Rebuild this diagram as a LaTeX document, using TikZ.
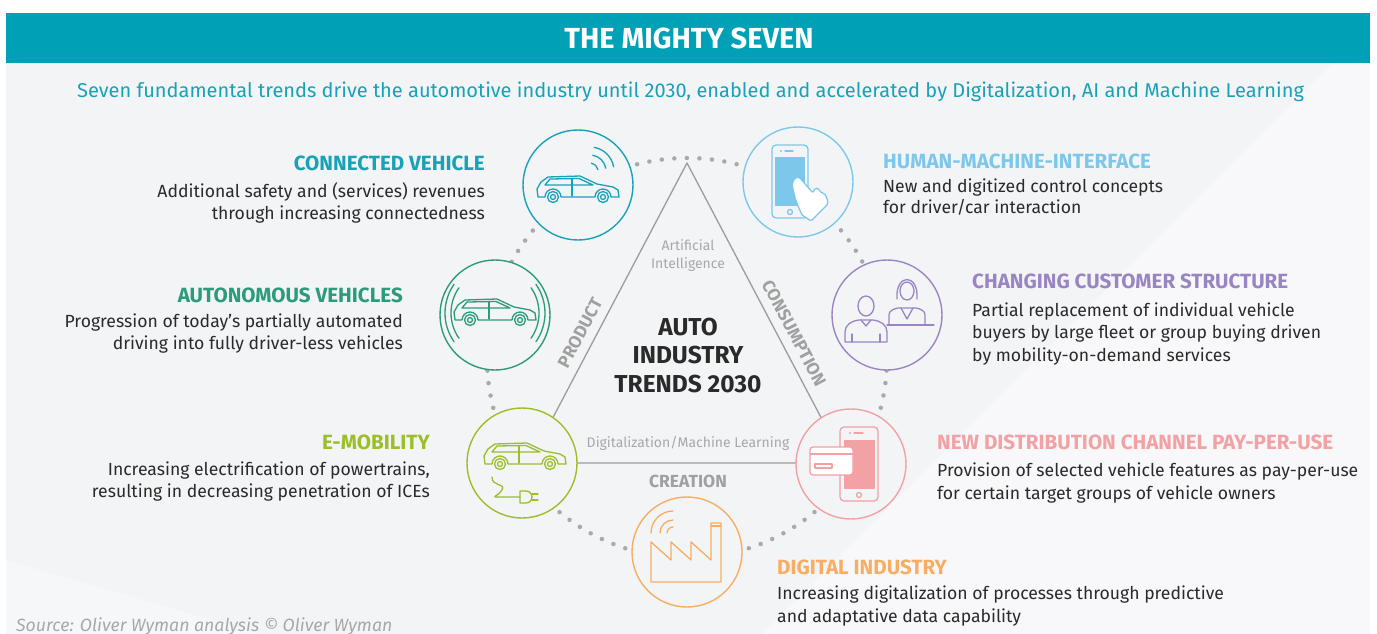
\documentclass[tikz,border=0pt]{standalone}
\usepackage{fontspec}
\setmainfont{Fira Sans}
\usetikzlibrary{positioning,calc}

\definecolor{barteal}{HTML}{00A1B7}
\definecolor{panel}{HTML}{F3F4F6}
\definecolor{cvcol}{HTML}{17A2B8}
\definecolor{avcol}{HTML}{2A9C7B}
\definecolor{emcol}{HTML}{9BBE2A}
\definecolor{hmicol}{HTML}{7DC8EA}
\definecolor{cuscol}{HTML}{9985C3}
\definecolor{paycol}{HTML}{F2A1A4}
\definecolor{dicol}{HTML}{F7AE62}
\definecolor{txt}{HTML}{2A2A2A}
\definecolor{softgray}{HTML}{A8A8A8}
\definecolor{dotgray}{HTML}{A9A9A9}
\definecolor{trigray}{HTML}{9C9C9C}

\tikzset{
  trend/.style={circle, minimum size=110pt, inner sep=0pt, fill=panel, line width=1.4pt},
  title/.style={font=\fontsize{29}{33}\selectfont\bfseries, text=white, anchor=base, inner sep=0pt},
  subtitle/.style={font=\fontsize{20}{24}\selectfont, text=cvcol, anchor=base west, inner sep=0pt},
  head/.style={font=\fontsize{20.6}{24}\selectfont\bfseries, inner sep=0pt},
  body/.style={font=\fontsize{17.6}{22}\selectfont, text=txt, inner sep=0pt},
  hub/.style={font=\fontsize{24.5}{28}\selectfont\bfseries, text=txt, anchor=base, inner sep=0pt},
  thin/.style={font=\fontsize{14}{18}\selectfont, text=softgray, anchor=base, inner sep=0pt},
  side/.style={font=\fontsize{17.5}{20}\selectfont\bfseries, text=softgray!95!black, inner sep=0pt},
  ringdots/.style={dotgray, line width=4.5pt, line cap=round, dash pattern=on 0pt off 12.566pt},
  tri/.style={trigray, line width=1.3pt},
  icon/.style={line width=1.3pt},
  % car seen from the side
  car/.pic={
    \draw (-33,9) -- (-40,9) -- (-41,1) -- (-37,-6) -- (-30,-11) -- (2,-12) -- (19,-4)
      -- (35,-1) -- (40,2) -- (41,9) -- (33,9) arc[start angle=0,end angle=-180,radius=8]
      -- (-17,9) arc[start angle=0,end angle=-180,radius=8];
    \draw (-33,-3) -- (-28,-9) -- (1,-9.5) -- (15,-3) -- cycle;
    \draw (-6,-9.5) -- (-6,8);
    \draw (25,9) circle[radius=5.5] (25,9) circle[radius=2.5];
    \draw (-25,9) circle[radius=5.5] (-25,9) circle[radius=2.5];
  },
  radiowaves/.pic={
    \foreach \r in {8,16,24} \draw (-10:\r) arc[start angle=-10,end angle=-80,radius=\r];
  },
  sidewaves/.pic={
    \foreach \r in {44,50} {
      \draw (145:\r) arc[start angle=145,end angle=215,radius=\r];
      \draw (-35:\r) arc[start angle=-35,end angle=35,radius=\r];
    }
  },
  plug/.pic={
    \draw (-30,14) .. controls (-30,24) and (-16,20) .. (-20,27)
      .. controls (-23,33) and (-32,34) .. (-24,34) -- (-2,34);
    \draw (-2,28) -- (4,28) arc[start angle=-90,end angle=90,radius=6] -- (-2,40) -- cycle;
    \draw (10,31) -- (16,31) (10,37) -- (16,37);
  },
  touchphone/.pic={
    \draw[rounded corners=4pt] (-26,-37) rectangle (10,36);
    \fill[hmicol] (-23,-25) rectangle (7,24);
    \draw (-13,-31) -- (-5,-31);
    \fill (-17,-31) circle[radius=1.1];
    \draw (-8,30) circle[radius=2.5];
    \draw[fill=white, rounded corners=1.5pt] (-3,-4) -- (1,-5) -- (15,11) -- (17,6) -- (21,7)
      -- (23,11) -- (26,11) -- (29,16) -- (30,22) -- (13,39) -- (4,33) -- (0,24)
      -- (-3,16) -- (-6,2) -- cycle;
  },
  people/.pic={
    \draw (-21,-9) ellipse[x radius=8, y radius=10];
    \draw (-42,27) -- (-42,17) .. controls (-42,10) and (-36,6) .. (-28,5) -- (-14,5)
      .. controls (-6,6) and (0,10) .. (0,17) -- (0,27) -- cycle;
    \draw (-26,5) -- (-21,11) -- (-16,5);
    \draw (-35,27) -- (-35,19) (-7,27) -- (-7,19);
    \draw (20,-24) ellipse[x radius=7, y radius=9];
    \draw (10,-16) .. controls (8,-42) and (32,-42) .. (30,-16);
    \draw (2,10) -- (2,0) .. controls (2,-4) and (6,-6) .. (11,-7) -- (29,-7)
      .. controls (34,-6) and (38,-4) .. (38,0) -- (38,10);
    \draw (14,-7) -- (20,4) -- (26,-7);
    \draw (0,10) -- (47,10);
  },
  cardphone/.pic={
    \draw[rounded corners=4pt] (-11,-37) rectangle (27,37);
    \fill[paycol] (-7,-24) rectangle (24,25);
    \fill (-1,-31) circle[radius=1.1];
    \draw (3,-31) -- (12,-31);
    \draw (8,31) circle[radius=2.5];
    \draw[fill=white, rounded corners=3pt] (-41,-17) rectangle (2,11);
    \draw (-41,-10) -- (2,-10);
    \draw (-36,0) rectangle (-19,4);
  },
  factory/.pic={
    \draw (-36,30) -- (-36,-10) -- (-16,8) -- (-16,-10) -- (4,8) -- (4,-10) -- (24,8)
      -- (24,-29) -- (34,-29) -- (34,30) -- cycle;
    \draw (24,-26) -- (34,-26);
    \foreach \r in {6,13,22} \draw (-14,-19) ++(180:\r) arc[start angle=180,end angle=270,radius=\r];
  }
}

\begin{document}
\begin{tikzpicture}[x=1pt,y=-1pt,line cap=round,line join=round]
\useasboundingbox (0,0) rectangle (1377,634);
% background and header
\fill[panel] (6,63) rectangle (1370,634);
\fill[white,opacity=.45] (1333,63) -- (1370,63) -- (1370,634) -- (762,634) -- cycle;
\fill[white,opacity=.3] (6,634) -- (6,560) -- (260,634) -- cycle;
\fill[barteal] (6,13) rectangle (1370,63);
\node[title] (ttl) at (689,49) {THE MIGHTY SEVEN};
\node[subtitle] (sub) at (77,98) {Seven fundamental trends drive the automotive industry until 2030, enabled and accelerated by Digitalization, AI and Machine Learning};

% ring and triangle
\coordinate (ring) at (687,358);
\draw[ringdots] (ring) circle[radius=200];
\coordinate (apex) at (687,163);
\coordinate (bl) at (529,463);
\coordinate (br) at (845,463);
\draw[tri] (apex) -- (bl) -- (br) -- cycle;

% the seven circles
\node[trend, draw=cvcol] (cv) at (578,185) {};
\node[trend, draw=hmicol] (hmi) at (798,182) {};
\node[trend, draw=cuscol] (cus) at (887,315) {};
\node[trend, draw=paycol] (pay) at (851,464) {};
\node[trend, draw=dicol] (di) at (687,552) {};
\node[trend, draw=emcol] (em) at (522,463) {};
\node[trend, draw=avcol] (av) at (495,315) {};

% icons
\pic[cvcol, icon] at ($(cv)+(0,3)$) {car};
\pic[cvcol, icon] at ($(cv)+(12,-14)$) {radiowaves};
\pic[avcol, icon] at ($(av)+(0,-4)$) {car};
\pic[avcol, icon] at ($(av)+(0,-2)$) {sidewaves};
\pic[emcol, icon] at ($(em)+(3,-8)$) {car};
\pic[emcol, icon] at (em) {plug};
\pic[hmicol, icon] at (hmi) {touchphone};
\pic[cuscol, icon] at (cus) {people};
\pic[paycol, icon] at (pay) {cardphone};
\pic[dicol, icon] at (di) {factory};

% centre
\node[thin] (ai1) at (688,250) {Artificial};
\node[thin] (ai2) at (688,268) {Intelligence};
\node[hub] (hub1) at (688,335) {AUTO};
\node[hub] (hub2) at (688,363) {INDUSTRY};
\node[hub] (hub3) at (688,392) {TRENDS 2030};
\node[thin] (dml) at (688,447) {Digitalization/Machine Learning};
\node[side, anchor=base] (crea) at (688,487) {CREATION};
\node[side, rotate=62] (prod) at (580,333) {PRODUCT};
\node[side, rotate=-62] (cons) at (794,333) {CONSUMPTION};

% left texts
\node[head, text=cvcol, anchor=base east] (cvh) at (485,170) {CONNECTED VEHICLE};
\node[body, anchor=base east] (cva) at (485,197) {Additional safety and (services) revenues};
\node[body, anchor=base east] (cvb) at (485,219) {through increasing connectedness};
\node[head, text=avcol, anchor=base east] (avh) at (403,302) {AUTONOMOUS VEHICLES};
\node[body, anchor=base east] (ava) at (403,327) {Progression of today’s partially automated};
\node[body, anchor=base east] (avb) at (403,349) {driving into fully driver-less vehicles};
\node[head, text=emcol, anchor=base east] (emh) at (430,449) {E-MOBILITY};
\node[body, anchor=base east] (ema) at (430,475) {Increasing electrification of powertrains,};
\node[body, anchor=base east] (emb) at (430,497) {resulting in decreasing penetration of ICEs};

% right texts
\node[head, text=hmicol, anchor=base west] (hmih) at (883,168) {HUMAN-MACHINE-INTERFACE};
\node[body, anchor=base west] (hmia) at (883,192) {New and digitized control concepts};
\node[body, anchor=base west] (hmib) at (883,213) {for driver/car interaction};
\node[head, text=cuscol, anchor=base west] (cush) at (972,288) {CHANGING CUSTOMER STRUCTURE};
\node[body, anchor=base west] (cusa) at (972,316) {Partial replacement of individual vehicle};
\node[body, anchor=base west] (cusb) at (972,338) {buyers by large fleet or group buying driven};
\node[body, anchor=base west] (cusc) at (972,361) {by mobility-on-demand services};
\node[head, text=paycol, anchor=base west] (payh) at (937,449) {NEW DISTRIBUTION CHANNEL PAY-PER-USE};
\node[body, anchor=base west] (paya) at (937,476) {Provision of selected vehicle features as pay-per-use};
\node[body, anchor=base west] (payb) at (937,499) {for certain target groups of vehicle owners};
\node[head, text=dicol, anchor=base west] (dih) at (777,574) {DIGITAL INDUSTRY};
\node[body, anchor=base west] (dia) at (777,599) {Increasing digitalization of processes through predictive};
\node[body, anchor=base west] (dib) at (777,622) {and adaptative data capability};

% source
\node[font=\fontsize{17.7}{22}\selectfont\itshape, text=softgray, anchor=base west, inner sep=0pt] (src) at (16,631) {Source: Oliver Wyman analysis © Oliver Wyman};
\end{tikzpicture}
\end{document}
